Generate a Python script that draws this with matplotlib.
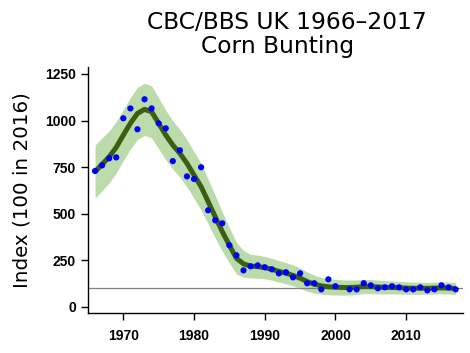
import numpy as np
import matplotlib
matplotlib.use("Agg")
import matplotlib.pyplot as plt

# annual index values (points) - 2001 missing
pt_years = [1966, 1967, 1968, 1969, 1970, 1971, 1972, 1973, 1974, 1975, 1976, 1977,
            1978, 1979, 1980, 1981, 1982, 1983, 1984, 1985, 1986, 1987, 1988, 1989,
            1990, 1991, 1992, 1993, 1994, 1995, 1996, 1997, 1998, 1999, 2000,
            2002, 2003, 2004, 2005, 2006, 2007, 2008, 2009, 2010, 2011, 2012,
            2013, 2014, 2015, 2016, 2017]
pt_index = [729, 759, 797, 802, 1012, 1065, 953, 1114, 1065, 985, 958, 782,
            840, 700, 686, 749, 518, 464, 448, 330, 276, 195, 217, 222,
            212, 201, 179, 185, 158, 179, 126, 126, 93, 147, 110,
            93, 93, 126, 115, 99, 104, 110, 104, 93, 93, 104,
            88, 93, 115, 104, 93]

# smoothed trend with confidence limits
years = list(range(1966, 2018))
trend = [725, 765, 805, 856, 922, 985, 1038, 1060, 1047, 985, 922, 868,
         824, 770, 707, 645, 564, 483, 403, 330, 260, 230, 218, 215,
         210, 201, 190, 180, 168, 153, 135, 121, 112, 107, 105, 103,
         103, 105, 108, 108, 106, 104, 103, 102, 100, 99, 99, 99,
         100, 101, 100, 98]
half_width = [143, 142, 140, 138, 137, 138, 140, 140, 140, 137, 133, 130,
              128, 127, 126, 125, 120, 115, 105, 95, 85, 72, 64, 62,
              60, 59, 58, 57, 56, 55, 52, 48, 45, 43, 42, 41,
              40, 39, 38, 38, 37, 36, 35, 34, 33, 33, 33, 32,
              32, 32, 32, 32]
lower = [t - h for t, h in zip(trend, half_width)]
upper = [t + h for t, h in zip(trend, half_width)]

fig = plt.figure(figsize=(4.7, 3.53), dpi=100)
ax = fig.add_axes([0.1879, 0.1125, 0.7966, 0.6985])

ax.fill_between(years, lower, upper, color='#bbdcaa', linewidth=0, zorder=1)
ax.axhline(100, color='#808080', linewidth=0.9, zorder=2)
ax.plot(years, trend, color='#3b5e10', linewidth=3.6, solid_capstyle='butt', zorder=3)
ax.scatter(pt_years, pt_index, s=20, color='#0000ff', edgecolors='none', zorder=4)

ax.set_xlim(1965.05, 2018.0)
ax.set_ylim(-35.4, 1289)
ax.set_xticks([1970, 1980, 1990, 2000, 2010])
ax.set_yticks([0, 250, 500, 750, 1000, 1250])

for s in ['top', 'right']:
    ax.spines[s].set_visible(False)
for s in ['left', 'bottom']:
    ax.spines[s].set_linewidth(1.0)

ax.tick_params(axis='both', length=5, width=1.0, labelsize=10)
ax.tick_params(axis='x', pad=6)
ax.tick_params(axis='y', pad=4)
for lab in ax.get_xticklabels() + ax.get_yticklabels():
    lab.set_fontfamily('Liberation Sans')
    lab.set_fontweight('bold')

fig.text(286.7 / 470, 1 - 29 / 353, 'CBC/BBS UK 1966\u20132017', ha='center',
         va='baseline', fontsize=16.8, family='DejaVu Sans')
fig.text(277.5 / 470, 1 - 53.5 / 353, 'Corn Bunting', ha='center', va='baseline',
         fontsize=16.8, family='DejaVu Sans')
fig.text(22 / 470, 1 - 190 / 353, 'Index (100 in 2016)', rotation=90,
         ha='center', va='center', fontsize=14.3, family='DejaVu Sans')

plt.savefig('out.png', dpi=100)
